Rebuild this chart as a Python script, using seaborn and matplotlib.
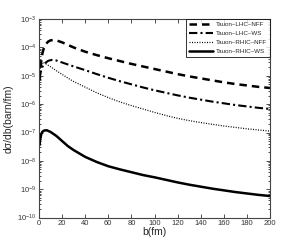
import numpy as np
import pandas as pd
import matplotlib
matplotlib.use("Agg")
import matplotlib.pyplot as plt
import seaborn as sns
from matplotlib.ticker import LogLocator, NullFormatter

sns.set_style("ticks")
plt.rcParams['font.family'] = ['Liberation Sans', 'DejaVu Sans']
plt.rcParams['mathtext.fontset'] = 'custom'
plt.rcParams['mathtext.rm'] = 'Liberation Sans'

# impact parameter b (fm) and log10 of dσ/db (barn/fm)
b_lhc_nff = [0.5, 1, 2, 3, 4, 6, 8, 10, 12, 15, 20, 30, 40, 50, 60, 70, 80, 90, 100,
             110, 120, 130, 140, 150, 160, 170, 180, 190, 200]
log_lhc_nff = [-5.15, -4.85, -4.45, -4.2, -4.05, -3.88, -3.79, -3.75, -3.74, -3.75, -3.82,
               -4.0, -4.15, -4.27, -4.38, -4.48, -4.58, -4.67, -4.76, -4.85, -4.94,
               -5.02, -5.09, -5.16, -5.23, -5.29, -5.34, -5.39, -5.43]

b_lhc_ws = [0.5, 1, 2, 3, 5, 8, 11, 15, 20, 30, 40, 50, 60, 70, 80, 90, 100,
            110, 120, 130, 140, 150, 160, 170, 180, 190, 200]
log_lhc_ws = [-5.1, -4.95, -4.8, -4.68, -4.56, -4.47, -4.44, -4.46, -4.53, -4.67, -4.8,
              -4.94, -5.07, -5.19, -5.3, -5.41, -5.51, -5.6, -5.69, -5.77, -5.84,
              -5.91, -5.97, -6.03, -6.08, -6.13, -6.17]

b_rhic_nff = [1, 2, 3.5, 6, 10, 15, 20, 25, 30, 40, 50, 60, 70, 80, 90, 100,
              110, 120, 130, 140, 150, 160, 170, 180, 190, 200]
log_rhic_nff = [-4.75, -4.6, -4.53, -4.58, -4.68, -4.82, -4.95, -5.08, -5.2, -5.4, -5.6,
                -5.77, -5.92, -6.05, -6.17, -6.29, -6.4, -6.5, -6.58, -6.65, -6.71,
                -6.77, -6.82, -6.87, -6.91, -6.95]

b_rhic_ws = [0.5, 1, 2, 3, 4.5, 6.7, 10, 15, 20, 25, 30, 40, 50, 60, 70, 80, 90, 100,
             110, 120, 130, 140, 150, 160, 170, 180, 190, 200]
log_rhic_ws = [-7.44, -7.25, -7.05, -6.97, -6.93, -6.92, -6.98, -7.12, -7.3, -7.48, -7.62,
               -7.86, -8.04, -8.19, -8.3, -8.4, -8.5, -8.58, -8.67, -8.76, -8.84,
               -8.91, -8.98, -9.04, -9.1, -9.15, -9.2, -9.24]

labels = ["Tauon\u2013LHC\u2013NFF", "Tauon\u2013LHC\u2013WS", "Tauon\u2013RHIC\u2013NFF", "Tauon\u2013RHIC\u2013WS"]
series = [(b_lhc_nff, log_lhc_nff), (b_lhc_ws, log_lhc_ws),
          (b_rhic_nff, log_rhic_nff), (b_rhic_ws, log_rhic_ws)]
styles = [dict(linestyle=(0, (3, 2)), linewidth=1.8),
          dict(linestyle=(0, (4, 1.5, 1, 1.5)), linewidth=1.5),
          dict(linestyle=(0, (0.8, 1.2)), linewidth=0.9),
          dict(linestyle='-', linewidth=1.8)]

fig = plt.figure(figsize=(3.0, 2.45), dpi=100)
ax = fig.add_axes([0.13, 0.112, 0.77, 0.81])

for (bx, ly), lab, st in zip(series, labels, styles):
    df = pd.DataFrame({"b": bx, "y": 10.0 ** np.array(ly)})
    sns.lineplot(data=df, x="b", y="y", ax=ax, color="black", label=lab, **st)

ax.set_yscale("log")
ax.set_xlim(0, 200)
ax.set_ylim(1e-10, 1e-3)
ax.set_xticks(np.arange(0, 201, 20))
ax.yaxis.set_major_locator(LogLocator(base=10, numticks=20))
ax.yaxis.set_minor_locator(LogLocator(base=10, subs=np.arange(2, 10), numticks=20))
ax.yaxis.set_minor_formatter(NullFormatter())
ax.tick_params(which="both", direction="in", top=True, right=True, labelsize=5.5,
               colors="#333333", width=0.6, pad=2)
ax.tick_params(which="major", length=3)
ax.tick_params(which="minor", length=1.5)
for s in ax.spines.values():
    s.set_linewidth(0.8)
    s.set_color("#444444")
ax.set_xlabel("b(fm)", fontsize=7.5, labelpad=0)
ax.set_ylabel("d\u03c3/db(barn/fm)", fontsize=7.5, labelpad=2)

leg = ax.legend(loc="upper right", fontsize=4.5, frameon=True, fancybox=False,
                edgecolor="black", handlelength=3.8, borderaxespad=0.0,
                labelspacing=0.55, borderpad=0.45, handletextpad=0.5)
leg.get_frame().set_linewidth(0.7)

fig.savefig("out.png", dpi=100)
